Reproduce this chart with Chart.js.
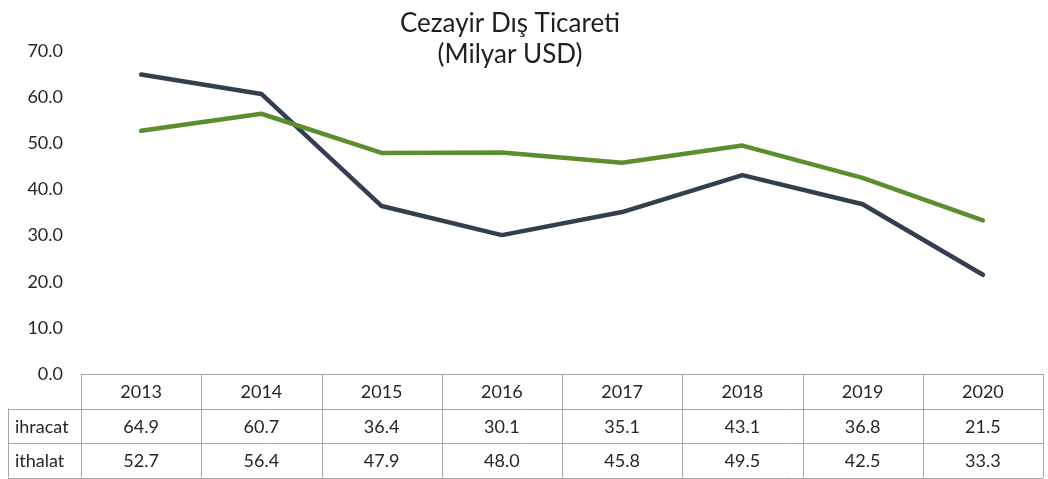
<!DOCTYPE html>
<html><head><meta charset="utf-8">
<script src="https://cdn.jsdelivr.net/npm/chart.js@4/dist/chart.umd.min.js"></script>
<style>html,body{margin:0;padding:0;background:#fff;}#wrap{width:1048px;height:479px;}</style>
</head><body><div id="wrap"><canvas id="c" width="1048" height="479"></canvas></div>
<script>
const titleLines = ["Cezayir Dış Ticareti", "(Milyar USD)"];
const years = ["2013","2014","2015","2016","2017","2018","2019","2020"];
const ihracat = [64.9, 60.7, 36.4, 30.1, 35.1, 43.1, 36.8, 21.5];
const ithalat = [52.7, 56.4, 47.9, 48.0, 45.8, 49.5, 42.5, 33.3];
const seriesNames = ["ihracat", "ithalat"];
const FONT = "Lato, 'Liberation Sans', sans-serif";

const titlePlugin = {
  id: 'ctitle',
  afterDraw(chart) {
    const ctx = chart.ctx;
    ctx.save();
    ctx.fillStyle = '#1f1f1f';
    ctx.font = "26px " + FONT;
    ctx.textAlign = 'center';
    ctx.textBaseline = 'alphabetic';
    titleLines.forEach((t, i) => ctx.fillText(t, 510, 32 + i * 31));
    ctx.restore();
  }
};

const tablePlugin = {
  id: 'dtable',
  afterDraw(chart) {
    const ctx = chart.ctx, xs = chart.scales.x, area = chart.chartArea;
    const n = years.length;
    const cw = (area.right - area.left) / n;
    const top = area.bottom, rh = 34.5;
    const labelLeft = 8;
    const rows = [ihracat, ithalat];
    ctx.save();
    ctx.strokeStyle = '#a6a6a6';
    ctx.lineWidth = 1;
    ctx.beginPath();
    ctx.moveTo(area.left, top + 0.5); ctx.lineTo(area.right, top + 0.5);
    for (let r = 1; r <= 3; r++) {
      const y = Math.round(top + r * rh) + 0.5;
      ctx.moveTo(labelLeft, y); ctx.lineTo(area.right, y);
    }
    ctx.moveTo(labelLeft + 0.5, top + rh); ctx.lineTo(labelLeft + 0.5, top + 3 * rh);
    for (let i = 0; i <= n; i++) {
      const x = Math.round(area.left + i * cw) + 0.5;
      ctx.moveTo(x, top); ctx.lineTo(x, top + 3 * rh);
    }
    ctx.stroke();
    ctx.fillStyle = '#262626';
    ctx.font = "18px " + FONT;
    ctx.textBaseline = 'middle';
    ctx.textAlign = 'center';
    years.forEach((y, i) => ctx.fillText(y, xs.getPixelForValue(i), top + rh / 2 + 1));
    rows.forEach((row, r) => {
      const cy = top + (r + 1.5) * rh + 1;
      ctx.textAlign = 'left';
      ctx.fillText(seriesNames[r], 15, cy);
      ctx.textAlign = 'center';
      row.forEach((v, i) => ctx.fillText(v.toFixed(1), xs.getPixelForValue(i), cy));
    });
    ctx.restore();
  }
};

new Chart(document.getElementById('c'), {
  type: 'line',
  data: {
    labels: years,
    datasets: [
      { label: seriesNames[0], data: ihracat, borderColor: '#333f50', borderWidth: 4.5, order: 1 },
      { label: seriesNames[1], data: ithalat, borderColor: '#5b8e2e', borderWidth: 4.5, order: 0 }
    ]
  },
  options: {
    responsive: false,
    animation: false,
    events: [],
    layout: { padding: { top: 51, left: 0, right: 5, bottom: 105 } },
    elements: {
      point: { radius: 0 },
      line: { tension: 0, borderCapStyle: 'round', borderJoinStyle: 'round', fill: false }
    },
    plugins: { legend: { display: false }, title: { display: false }, tooltip: { enabled: false } },
    scales: {
      x: { display: false, offset: true },
      y: {
        min: 0, max: 70,
        afterFit(s) { s.width = 81; },
        grid: { display: false, drawTicks: false },
        border: { display: false },
        ticks: { stepSize: 10, padding: 18, color: '#262626', font: { family: FONT, size: 18 },
          callback: v => Number(v).toFixed(1) }
      }
    }
  },
  plugins: [titlePlugin, tablePlugin]
});
</script></body></html>
